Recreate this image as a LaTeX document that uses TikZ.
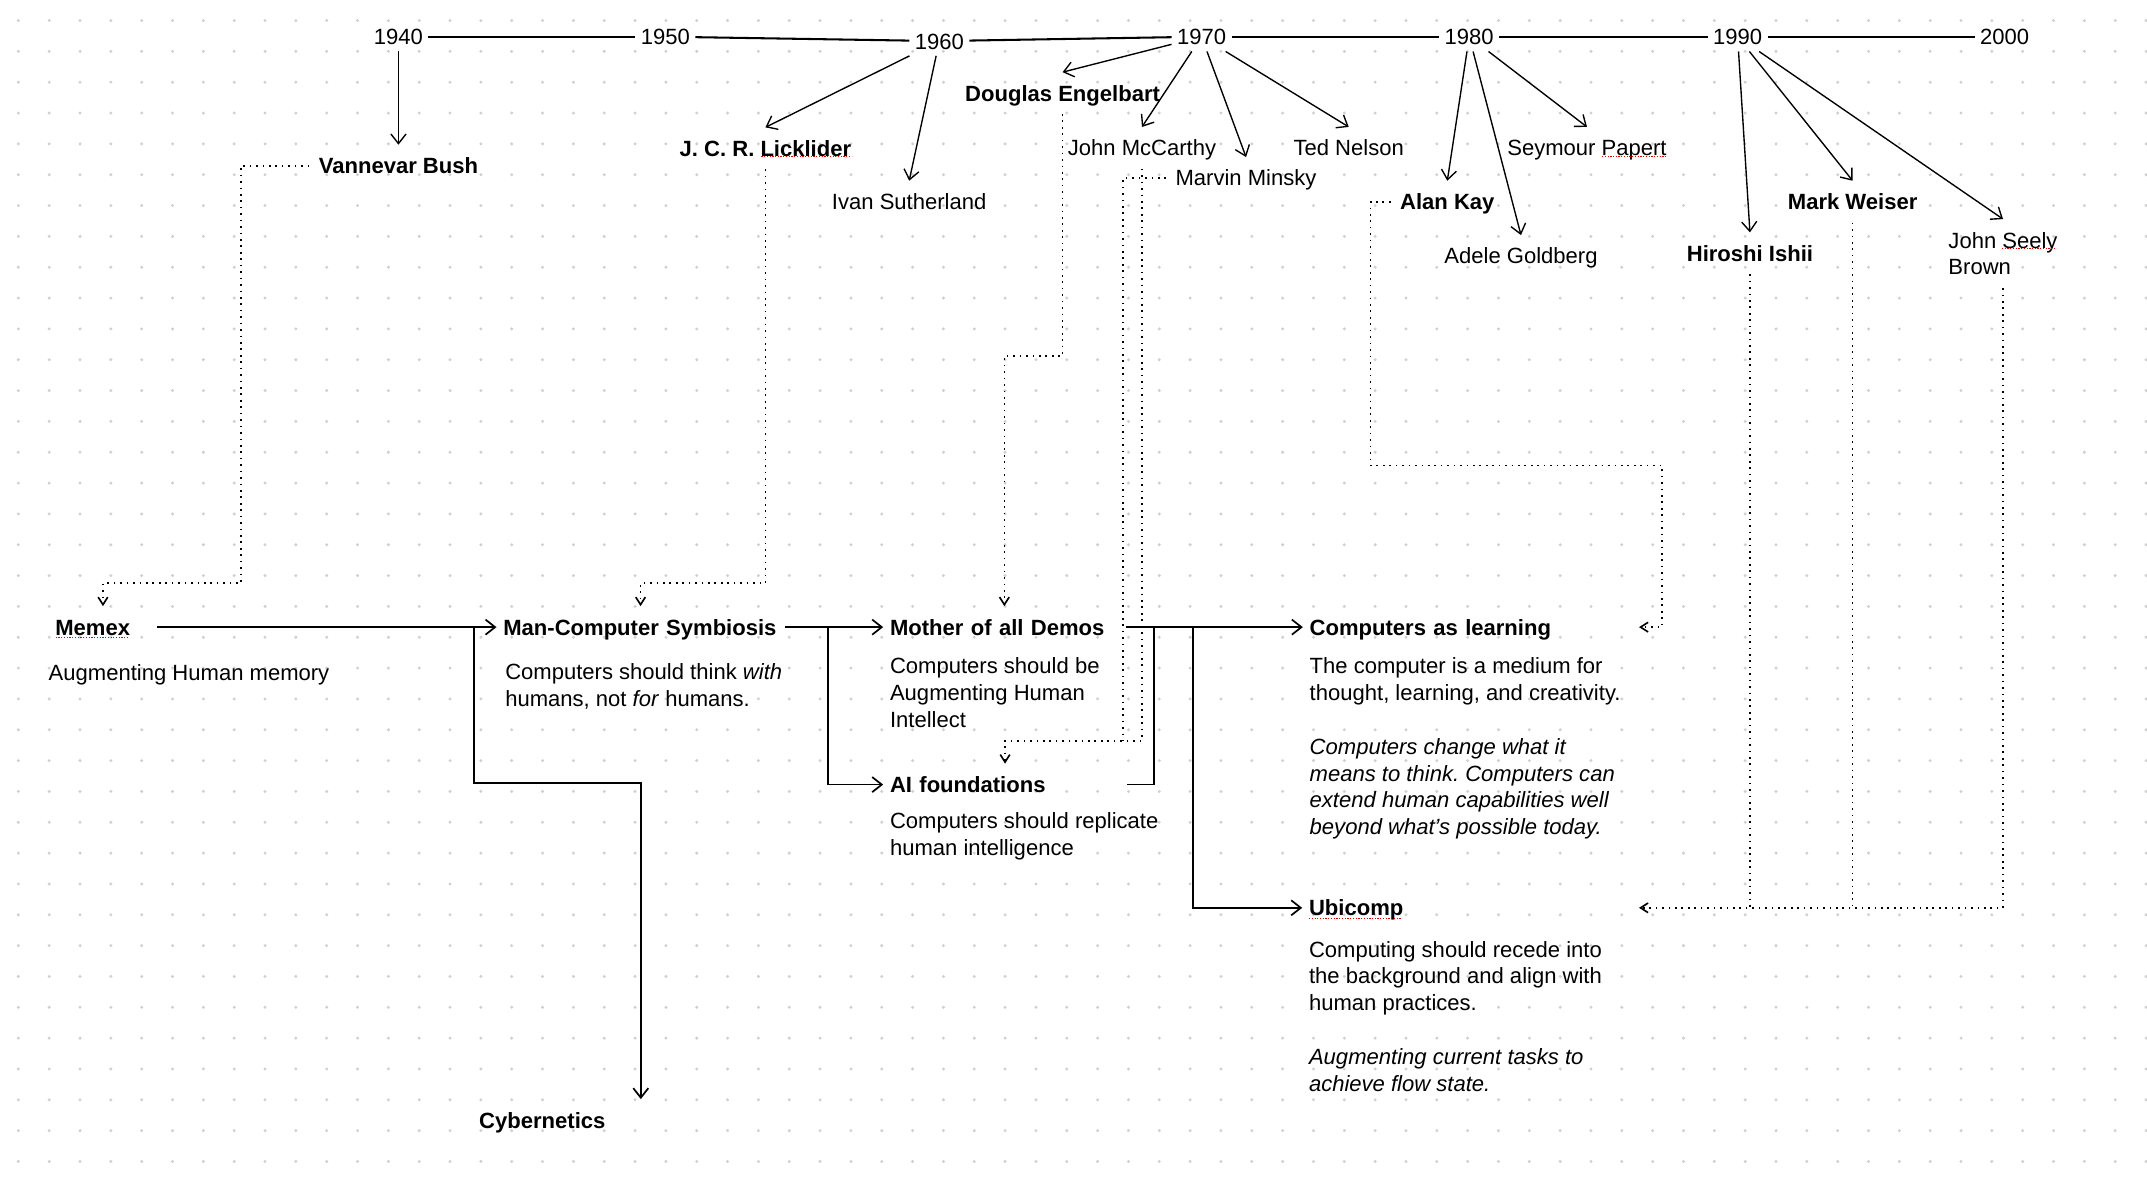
\documentclass[tikz,border=0pt]{standalone}
\usepackage{fontspec}
\setmainfont{Liberation Sans}
\usetikzlibrary{arrows.meta}
\definecolor{dotc}{HTML}{D0D0D0}
\frenchspacing
\begin{document}
\begin{tikzpicture}[x=1pt,y=-1pt,
  font=\fontsize{16.1pt}{19.6pt}\selectfont,
  every node/.style={inner sep=0pt,outer sep=0pt},
  year/.style={text height=11.6pt,text depth=0pt,inner xsep=4pt,inner ysep=5pt},
  person/.style={text height=11.6pt,text depth=0pt,inner xsep=7pt,inner ysep=9.5pt},
  pbold/.style={person,font=\fontsize{16.1pt}{19.6pt}\selectfont\bfseries},
  titlebox/.style={anchor=west,align=left,text height=11.6pt,text depth=0pt,inner xsep=5pt,inner ysep=9.5pt,font=\fontsize{16.1pt}{19.6pt}\selectfont\bfseries},
  desc/.style={anchor=north west,align=left},
  tline/.style={line width=1.5pt},
  yarrow/.style={line width=1pt,-{Straight Barb[length=7pt,width=11pt]}},
  flow/.style={line width=1.25pt},
  flowarrow/.style={flow,-{Straight Barb[length=7pt,width=11pt]}},
  dotline/.style={line width=1.2pt,dash pattern=on 1.2pt off 3.5pt},
  dotarrow/.style={dotline,-{Straight Barb[length=5.5pt,width=7pt]}},
  spell/.style={draw=red!85!black,line width=0.9pt,dash pattern=on 0.9pt off 1.1pt},
]
\fill[white] (0,0) rectangle (1568,862);
\useasboundingbox (0,0) rectangle (1568,862);
\foreach \i in {0,...,69}{\foreach \j in {0,...,37}{\fill[dotc] (13.4+22.52*\i,15+22.52*\j) circle[radius=1.2pt];}}

% timeline
\node[year] (y1940) at (291,26.8) {1940};
\node[year] (y1950) at (486,26.8) {1950};
\node[year] (y1960) at (686,30) {1960};
\node[year] (y1970) at (877.5,26.8) {1970};
\node[year] (y1980) at (1073,26.8) {1980};
\node[year] (y1990) at (1269,26.8) {1990};
\node[year] (y2000) at (1464,26.8) {2000};
\draw[tline] (y1940) -- (y1950);
\draw[tline] (y1950) -- (y1960);
\draw[tline] (y1960) -- (y1970);
\draw[tline] (y1970) -- (y1980);
\draw[tline] (y1980) -- (y1990);
\draw[tline] (y1990) -- (y2000);

% people
\node[pbold] (bush) at (291,121) {Vannevar Bush};
\node[pbold] (lick) at (559,108.3) {J. C. R. Licklider};
\node[person] (ivan) at (664,147.3) {Ivan Sutherland};
\node[pbold] (eng) at (776,68) {Douglas Engelbart};
\node[person] (mcc) at (834,108) {John McCarthy};
\node[person] (minsky) at (910,130) {Marvin Minsky};
\node[person] (ted) at (985,108) {Ted Nelson};
\node[pbold] (kay) at (1057,147.3) {Alan Kay};
\node[person] (adele) at (1110.8,187) {Adele Goldberg};
\node[person] (papert) at (1159,108) {Seymour Papert};
\node[pbold] (ishii) at (1278,185) {Hiroshi Ishii};
\node[pbold] (weiser) at (1353,147.3) {Mark Weiser};
\node[anchor=north west,align=left,inner xsep=7pt,inner ysep=9.5pt] (jsb) at (1416,160) {John Seely\\Brown};

\draw[yarrow] (y1940) -- (bush.north);
\draw[yarrow] (y1960) -- (lick.north);
\draw[yarrow] (y1960) -- (ivan.north);
\draw[yarrow] (y1970) -- (eng.north);
\draw[yarrow] (y1970) -- (mcc.north);
\draw[yarrow] (y1970) -- (minsky.north);
\draw[yarrow] (y1970) -- (ted.north);
\draw[yarrow] (y1980) -- (kay.north);
\draw[yarrow] (y1980) -- (adele.north);
\draw[yarrow] (y1980) -- (papert.north);
\draw[yarrow] (y1990) -- (ishii.north);
\draw[yarrow] (y1990) -- (weiser.north);
\draw[yarrow] (y1990) -- (jsb.north);

% idea boxes
\node[titlebox,text width=69.6pt] (memex) at (35.4,458) {Memex};
\node[titlebox,text width=200.4pt] (mcs) at (362.6,458) {Man-Computer Symbiosis};
\node[titlebox,text width=167pt] (mother) at (645,458) {Mother of all Demos};
\node[titlebox,text width=168pt] (ai) at (645,573) {AI foundations};
\node[titlebox,text width=235.5pt] (cal) at (951.5,458) {Computers as learning};
\node[titlebox,text width=236pt] (ubi) at (951,663) {Ubicomp};
\node[titlebox,text width=236pt] (cyber) at (345,818) {Cybernetics};

\node[desc] (memexd) at (35.6,485) {Augmenting Human memory};
\node[desc] (mcsd) at (369,484.5) {Computers should think \textit{with}\\humans, not \textit{for} humans.};
\node[desc] (motherd) at (650,480.4) {Computers should be\\Augmenting Human\\Intellect};
\node[desc] (aid) at (650,593.3) {Computers should replicate\\human intelligence};
\node[desc] (cald) at (956.5,480.4) {The computer is a medium for\\thought, learning, and creativity.\\[19.6pt]\textit{Computers change what it}\\\textit{means to think. Computers can}\\\textit{extend human capabilities well}\\\textit{beyond what's possible today.}};
\node[desc] (ubid) at (956,687.3) {Computing should recede into\\the background and align with\\human practices.\\[19.6pt]\textit{Augmenting current tasks to}\\\textit{achieve flow state.}};

% dotted influence connectors
\coordinate (b1) at (176,426);
\draw[dotarrow] (bush.west) -| (b1) -| (memex.north);
\coordinate (b2) at (559,426);
\draw[dotarrow] (lick.south) -- (b2) -| (mcs.north);
\coordinate (b3) at (776,260);
\draw[dotarrow] (eng.south) -- (b3) -| (mother.north);
\coordinate (b4) at (834,541);
\draw[dotarrow] (mcc.south) -- (b4) -| (ai.north);
\coordinate (b5) at (820.3,541);
\draw[dotline] (minsky.west) -| (b5);
\coordinate (b6) at (1001,340);
\coordinate (b7) at (1214,458);
\draw[dotarrow] (kay.west) -| (b6) -| (b7) -- (cal.east);
\draw[dotline] (ishii.south) -- (ishii.south |- ubi.east);
\draw[dotline] (weiser.south) -- (weiser.south |- ubi.east);
\draw[dotarrow] (jsb.south) |- (ubi.east);

% solid flow
\draw[flowarrow] (memex.east) -- (mcs.west);
\coordinate (j1) at (346.3,458);
\coordinate (c1) at (400,572);
\draw[flowarrow] (j1) |- (c1) -| (cyber.north);
\draw[flowarrow] (mcs.east) -- (mother.west);
\coordinate (j2) at (604.5,458);
\draw[flowarrow] (j2) |- (ai.west);
\draw[flowarrow] (mother.east) -- (cal.west);
\coordinate (j3) at (843,458);
\draw[flow] (ai.east) -| (j3);
\coordinate (j4) at (871.5,458);
\draw[flowarrow] (j4) |- (ubi.west);

% spell-check marks
\draw[spell] (40.7,465.5) -- (94.4,465.5);
\draw[spell] (556,114.5) -- (622,114.5);
\draw[spell] (1170,114.5) -- (1217,114.5);
\draw[spell] (1462,181.5) -- (1502,181.5);
\draw[spell] (956,670.6) -- (1024,670.6);
\end{tikzpicture}
\end{document}
